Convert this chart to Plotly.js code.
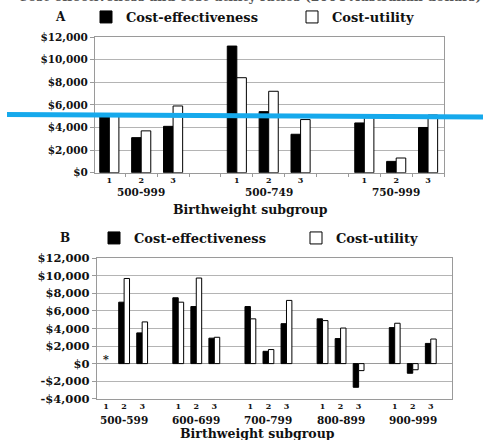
<!DOCTYPE html>
<html>
<head>
<meta charset="utf-8">
<script src="https://cdn.plot.ly/plotly-3.0.1.min.js"></script>
<style>html,body{margin:0;padding:0;background:#fff;}#chart{width:483px;height:440px;}</style>
</head>
<body>
<div id="chart"></div>
<script>
// ---- data ----
const subLabels = ['1', '2', '3'];
const groupsA = ['500-999', '500-749', '750-999'];
const costEffA = [5100, 3100, 4100, 11200, 5400, 3400, 4400, 1000, 4000];
const costUtilA = [5100, 3700, 5900, 8400, 7200, 4700, 5100, 1300, 5100];
const groupsB = ['500-599', '600-699', '700-799', '800-899', '900-999'];
const costEffB = [null, 7000, 3500, 7500, 6500, 2900, 6500, 1400, 4550, 5100, 2850, -2700, 4100, -1100, 2300];
const costUtilB = [null, 9700, 4750, 7000, 9750, 3000, 5100, 1600, 7200, 4900, 4050, -800, 4600, -700, 2800];
const yTicksA = [0, 2000, 4000, 6000, 8000, 10000, 12000];
const yTickTextA = ['$0', '$2,000', '$4,000', '$6,000', '$8,000', '$10,000', '$12,000'];
const yTicksB = [-4000, -2000, 0, 2000, 4000, 6000, 8000, 10000, 12000];
const yTickTextB = ['-$4,000', '-$2,000', '$0', '$2,000', '$4,000', '$6,000', '$8,000', '$10,000', '$12,000'];
const seriesNames = ['Cost-effectiveness', 'Cost-utility'];
const panelLabels = ['A', 'B'];
const missingNote = '*';
const titleText = 'Cost-effectiveness and cost-utility ratios (2004 Australian dollars)';
const xTitle = 'Birthweight subgroup';

// ---- helpers ----
function slots(groups) {
  const xs = [], txt = [];
  groups.forEach((g, gi) => subLabels.forEach((s, si) => { xs.push(gi * 4 + si); txt.push(s); }));
  return {xs, txt};
}
const W = 483, H = 440;
const px = v => v / W, py = v => 1 - v / H;
const FONT = 'DejaVu Serif, Liberation Serif, serif';
const ink = '#111';
const f = (size, color) => ({family: FONT, size: size, color: color || ink, weight: 'bold'});
const sA = slots(groupsA), sB = slots(groupsB);

const barBlack = {color: '#000', line: {color: '#000', width: 1}};
const barWhite = {color: '#fff', line: {color: '#000', width: 1}};

const traces = [
  {type: 'bar', x: sA.xs, y: costEffA, name: seriesNames[0], marker: barBlack, xaxis: 'x', yaxis: 'y', legend: 'legend'},
  {type: 'bar', x: sA.xs, y: costUtilA, name: seriesNames[1], marker: barWhite, xaxis: 'x', yaxis: 'y', legend: 'legend2'},
  {type: 'bar', x: sB.xs, y: costEffB, name: seriesNames[0], marker: barBlack, xaxis: 'x2', yaxis: 'y2', legend: 'legend3'},
  {type: 'bar', x: sB.xs, y: costUtilB, name: seriesNames[1], marker: barWhite, xaxis: 'x2', yaxis: 'y2', legend: 'legend4'}
];

const grid = '#b4b4b4', frame = '#9a9a9a';

const annotations = [];
groupsA.forEach((g, gi) => annotations.push({text: g, x: gi * 4 + 1, xref: 'x', y: py(191.5), yref: 'paper', showarrow: false,
  font: f(10.5), xanchor: 'center', yanchor: 'middle'}));
groupsB.forEach((g, gi) => annotations.push({text: g, x: gi * 4 + 1, xref: 'x2', y: py(420), yref: 'paper', showarrow: false,
  font: f(10.5), xanchor: 'center', yanchor: 'middle'}));
annotations.push({text: missingNote, x: 0, xref: 'x2', y: 500, yref: 'y2', showarrow: false, font: f(11), xanchor: 'center', yanchor: 'middle'});
annotations.push({text: panelLabels[0], x: px(60), y: py(17), xref: 'paper', yref: 'paper', showarrow: false, font: f(12), xanchor: 'center', yanchor: 'middle'});
annotations.push({text: panelLabels[1], x: px(64.5), y: py(238), xref: 'paper', yref: 'paper', showarrow: false, font: f(12), xanchor: 'center', yanchor: 'middle'});
annotations.push({text: xTitle, x: px(250), y: py(209.5), xref: 'paper', yref: 'paper', showarrow: false, font: f(12.5), xanchor: 'center', yanchor: 'middle'});
annotations.push({text: xTitle, x: px(257), y: py(433), xref: 'paper', yref: 'paper', showarrow: false, font: f(12.5), xanchor: 'center', yanchor: 'middle'});
annotations.push({text: titleText, x: px(250), y: 1 + 3 / H, xref: 'paper', yref: 'paper', showarrow: false, xanchor: 'center', yanchor: 'middle',
  font: f(12.5, '#555')});

const legendBase = (xPix, yPix) => ({orientation: 'h', x: px(xPix), xanchor: 'left', y: py(yPix), yanchor: 'middle', font: f(13),
  bgcolor: 'rgba(0,0,0,0)', borderwidth: 0});

const layout = {
  width: W, height: H,
  margin: {l: 0, r: 0, t: 0, b: 0, autoexpand: false},
  paper_bgcolor: '#fff', plot_bgcolor: '#fff',
  barmode: 'group', bargap: 0.4, bargroupgap: 0,
  xaxis: {domain: [px(95), px(444)], range: [-0.45, 10.5], tickvals: sA.xs, ticktext: sA.txt, ticks: '', tickfont: f(8),
    showline: true, linecolor: frame, mirror: true, showgrid: false, zeroline: false,
    minor: {ticks: 'outside', ticklen: 3, tickcolor: frame, tick0: 0.5, dtick: 1, showgrid: false}},
  yaxis: {domain: [py(172.7), py(37)], range: [0, 12000], tickvals: yTicksA, ticktext: yTickTextA, tickfont: f(10.5),
    ticks: 'outside', ticklen: 4, tickcolor: frame, showline: true, linecolor: frame, mirror: true,
    gridcolor: grid, zeroline: false},
  xaxis2: {domain: [px(96.7), px(451.7)], range: [-0.52, 19.16], tickvals: sB.xs, ticktext: sB.txt, ticks: '', tickfont: f(8),
    showline: true, linecolor: frame, mirror: true, showgrid: false, zeroline: false, anchor: 'y2'},
  yaxis2: {domain: [py(398.7), py(258.3)], range: [-4000, 12000], tickvals: yTicksB, ticktext: yTickTextB, tickfont: f(11.5),
    ticks: 'outside', ticklen: 4, tickcolor: frame, showline: true, linecolor: frame, mirror: true,
    gridcolor: grid, zeroline: true, zerolinecolor: frame, zerolinewidth: 1, anchor: 'x2'},
  legend: legendBase(86, 17),
  legend2: legendBase(292, 17),
  legend3: legendBase(94, 238),
  legend4: legendBase(296, 238),
  showlegend: true,
  annotations: annotations,
  shapes: [{type: 'line', xref: 'paper', yref: 'paper', x0: px(7), y0: py(114.5), x1: 1, y1: py(117), line: {color: '#16a9ec', width: 5}}]
};

Plotly.newPlot('chart', traces, layout, {displayModeBar: false, staticPlot: true});
</script>
</body>
</html>
